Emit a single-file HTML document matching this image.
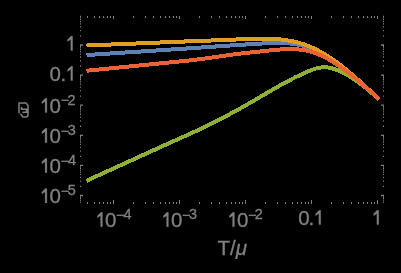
<!DOCTYPE html>
<html><head><meta charset="utf-8"><style>
html,body{margin:0;padding:0;background:#000;width:401px;height:273px;overflow:hidden}
svg{display:block}
text{font-family:"Liberation Sans",sans-serif;fill:#808080}
</style></head><body>
<svg width="401" height="273" viewBox="0 0 401 273">
<rect width="401" height="273" fill="#000"/>
<path d="M87.50 204.00L87.50 202.00 M87.50 16.00L87.50 18.00 M94.50 204.00L94.50 202.00 M94.50 16.00L94.50 18.00 M99.50 204.00L99.50 202.00 M99.50 16.00L99.50 18.00 M103.50 204.00L103.50 202.00 M103.50 16.00L103.50 18.00 M107.50 204.00L107.50 202.00 M107.50 16.00L107.50 18.00 M110.50 204.00L110.50 202.00 M110.50 16.00L110.50 18.00 M113.50 204.00L113.50 200.00 M113.50 16.00L113.50 19.00 M133.50 204.00L133.50 202.00 M133.50 16.00L133.50 18.00 M145.50 204.00L145.50 202.00 M145.50 16.00L145.50 18.00 M153.50 204.00L153.50 202.00 M153.50 16.00L153.50 18.00 M160.50 204.00L160.50 202.00 M160.50 16.00L160.50 18.00 M165.50 204.00L165.50 202.00 M165.50 16.00L165.50 18.00 M169.50 204.00L169.50 202.00 M169.50 16.00L169.50 18.00 M173.50 204.00L173.50 202.00 M173.50 16.00L173.50 18.00 M176.50 204.00L176.50 202.00 M176.50 16.00L176.50 18.00 M179.50 204.00L179.50 200.00 M179.50 16.00L179.50 19.00 M199.50 204.00L199.50 202.00 M199.50 16.00L199.50 18.00 M211.50 204.00L211.50 202.00 M211.50 16.00L211.50 18.00 M219.50 204.00L219.50 202.00 M219.50 16.00L219.50 18.00 M226.50 204.00L226.50 202.00 M226.50 16.00L226.50 18.00 M231.50 204.00L231.50 202.00 M231.50 16.00L231.50 18.00 M235.50 204.00L235.50 202.00 M235.50 16.00L235.50 18.00 M239.50 204.00L239.50 202.00 M239.50 16.00L239.50 18.00 M242.50 204.00L242.50 202.00 M242.50 16.00L242.50 18.00 M245.50 204.00L245.50 200.00 M245.50 16.00L245.50 19.00 M265.50 204.00L265.50 202.00 M265.50 16.00L265.50 18.00 M277.50 204.00L277.50 202.00 M277.50 16.00L277.50 18.00 M285.50 204.00L285.50 202.00 M285.50 16.00L285.50 18.00 M292.50 204.00L292.50 202.00 M292.50 16.00L292.50 18.00 M297.50 204.00L297.50 202.00 M297.50 16.00L297.50 18.00 M301.50 204.00L301.50 202.00 M301.50 16.00L301.50 18.00 M305.50 204.00L305.50 202.00 M305.50 16.00L305.50 18.00 M308.50 204.00L308.50 202.00 M308.50 16.00L308.50 18.00 M311.50 204.00L311.50 200.00 M311.50 16.00L311.50 19.00 M331.50 204.00L331.50 202.00 M331.50 16.00L331.50 18.00 M343.50 204.00L343.50 202.00 M343.50 16.00L343.50 18.00 M351.50 204.00L351.50 202.00 M351.50 16.00L351.50 18.00 M358.50 204.00L358.50 202.00 M358.50 16.00L358.50 18.00 M363.50 204.00L363.50 202.00 M363.50 16.00L363.50 18.00 M367.50 204.00L367.50 202.00 M367.50 16.00L367.50 18.00 M371.50 204.00L371.50 202.00 M371.50 16.00L371.50 18.00 M374.50 204.00L374.50 202.00 M374.50 16.00L374.50 18.00 M377.50 204.00L377.50 200.00 M377.50 16.00L377.50 19.00" stroke="#808080" stroke-width="1" fill="none" shape-rendering="crispEdges"/>
<path d="M80.00 202.18L81.00 202.18 M384.00 202.18L383.00 202.18 M80.00 200.16L81.00 200.16 M384.00 200.16L383.00 200.16 M80.00 198.42L81.00 198.42 M384.00 198.42L383.00 198.42 M80.00 196.88L81.00 196.88 M384.00 196.88L383.00 196.88 M80.00 195.50L83.00 195.50 M384.00 195.50L381.00 195.50 M80.00 186.44L81.00 186.44 M384.00 186.44L383.00 186.44 M80.00 181.14L81.00 181.14 M384.00 181.14L383.00 181.14 M80.00 177.38L81.00 177.38 M384.00 177.38L383.00 177.38 M80.00 174.46L81.00 174.46 M384.00 174.46L383.00 174.46 M80.00 172.08L81.00 172.08 M384.00 172.08L383.00 172.08 M80.00 170.06L81.00 170.06 M384.00 170.06L383.00 170.06 M80.00 168.32L81.00 168.32 M384.00 168.32L383.00 168.32 M80.00 166.78L81.00 166.78 M384.00 166.78L383.00 166.78 M80.00 165.40L83.00 165.40 M384.00 165.40L381.00 165.40 M80.00 156.34L81.00 156.34 M384.00 156.34L383.00 156.34 M80.00 151.04L81.00 151.04 M384.00 151.04L383.00 151.04 M80.00 147.28L81.00 147.28 M384.00 147.28L383.00 147.28 M80.00 144.36L81.00 144.36 M384.00 144.36L383.00 144.36 M80.00 141.98L81.00 141.98 M384.00 141.98L383.00 141.98 M80.00 139.96L81.00 139.96 M384.00 139.96L383.00 139.96 M80.00 138.22L81.00 138.22 M384.00 138.22L383.00 138.22 M80.00 136.68L81.00 136.68 M384.00 136.68L383.00 136.68 M80.00 135.30L83.00 135.30 M384.00 135.30L381.00 135.30 M80.00 126.24L81.00 126.24 M384.00 126.24L383.00 126.24 M80.00 120.94L81.00 120.94 M384.00 120.94L383.00 120.94 M80.00 117.18L81.00 117.18 M384.00 117.18L383.00 117.18 M80.00 114.26L81.00 114.26 M384.00 114.26L383.00 114.26 M80.00 111.88L81.00 111.88 M384.00 111.88L383.00 111.88 M80.00 109.86L81.00 109.86 M384.00 109.86L383.00 109.86 M80.00 108.12L81.00 108.12 M384.00 108.12L383.00 108.12 M80.00 106.58L81.00 106.58 M384.00 106.58L383.00 106.58 M80.00 105.20L83.00 105.20 M384.00 105.20L381.00 105.20 M80.00 96.14L81.00 96.14 M384.00 96.14L383.00 96.14 M80.00 90.84L81.00 90.84 M384.00 90.84L383.00 90.84 M80.00 87.08L81.00 87.08 M384.00 87.08L383.00 87.08 M80.00 84.16L81.00 84.16 M384.00 84.16L383.00 84.16 M80.00 81.78L81.00 81.78 M384.00 81.78L383.00 81.78 M80.00 79.76L81.00 79.76 M384.00 79.76L383.00 79.76 M80.00 78.02L81.00 78.02 M384.00 78.02L383.00 78.02 M80.00 76.48L81.00 76.48 M384.00 76.48L383.00 76.48 M80.00 75.10L83.00 75.10 M384.00 75.10L381.00 75.10 M80.00 66.04L81.00 66.04 M384.00 66.04L383.00 66.04 M80.00 60.74L81.00 60.74 M384.00 60.74L383.00 60.74 M80.00 56.98L81.00 56.98 M384.00 56.98L383.00 56.98 M80.00 54.06L81.00 54.06 M384.00 54.06L383.00 54.06 M80.00 51.68L81.00 51.68 M384.00 51.68L383.00 51.68 M80.00 49.66L81.00 49.66 M384.00 49.66L383.00 49.66 M80.00 47.92L81.00 47.92 M384.00 47.92L383.00 47.92 M80.00 46.38L81.00 46.38 M384.00 46.38L383.00 46.38 M80.00 45.00L83.00 45.00 M384.00 45.00L381.00 45.00 M80.00 35.94L81.00 35.94 M384.00 35.94L383.00 35.94 M80.00 30.64L81.00 30.64 M384.00 30.64L383.00 30.64 M80.00 26.88L81.00 26.88 M384.00 26.88L383.00 26.88 M80.00 23.96L81.00 23.96 M384.00 23.96L383.00 23.96 M80.00 21.58L81.00 21.58 M384.00 21.58L383.00 21.58 M80.00 19.56L81.00 19.56 M384.00 19.56L383.00 19.56 M80.00 17.82L81.00 17.82 M384.00 17.82L383.00 17.82 M80.00 16.28L81.00 16.28 M384.00 16.28L383.00 16.28" stroke="#808080" stroke-width="1.3" fill="none"/>
<path d="M86.50 55.05 L87.50 54.98 L88.50 54.92 L89.50 54.85 L90.50 54.79 L91.50 54.72 L92.50 54.65 L93.50 54.59 L94.50 54.52 L95.50 54.46 L96.50 54.39 L97.50 54.33 L98.50 54.26 L99.50 54.20 L100.50 54.13 L101.50 54.07 L102.50 54.00 L103.50 53.94 L104.50 53.87 L105.50 53.81 L106.50 53.74 L107.50 53.67 L108.50 53.61 L109.50 53.54 L110.50 53.48 L111.50 53.41 L112.50 53.35 L113.50 53.28 L114.50 53.22 L115.50 53.15 L116.50 53.09 L117.50 53.02 L118.50 52.96 L119.50 52.89 L120.50 52.83 L121.50 52.76 L122.50 52.70 L123.50 52.63 L124.50 52.56 L125.50 52.50 L126.50 52.43 L127.50 52.37 L128.50 52.30 L129.50 52.24 L130.50 52.17 L131.50 52.11 L132.50 52.04 L133.50 51.98 L134.50 51.91 L135.50 51.85 L136.50 51.78 L137.50 51.72 L138.50 51.65 L139.50 51.58 L140.50 51.52 L141.50 51.45 L142.50 51.39 L143.50 51.32 L144.50 51.26 L145.50 51.19 L146.50 51.13 L147.50 51.06 L148.50 51.00 L149.50 50.93 L150.50 50.87 L151.50 50.80 L152.50 50.74 L153.50 50.67 L154.50 50.61 L155.50 50.54 L156.50 50.47 L157.50 50.41 L158.50 50.34 L159.50 50.28 L160.50 50.21 L161.50 50.15 L162.50 50.08 L163.50 50.02 L164.50 49.95 L165.50 49.89 L166.50 49.82 L167.50 49.76 L168.50 49.69 L169.50 49.63 L170.50 49.56 L171.50 49.50 L172.50 49.43 L173.50 49.36 L174.50 49.30 L175.50 49.23 L176.50 49.17 L177.50 49.10 L178.50 49.04 L179.50 48.97 L180.50 48.91 L181.50 48.84 L182.50 48.78 L183.50 48.71 L184.50 48.64 L185.50 48.58 L186.50 48.51 L187.50 48.44 L188.50 48.38 L189.50 48.31 L190.50 48.24 L191.50 48.18 L192.50 48.11 L193.50 48.04 L194.50 47.97 L195.50 47.90 L196.50 47.84 L197.50 47.77 L198.50 47.70 L199.50 47.63 L200.50 47.56 L201.50 47.49 L202.50 47.42 L203.50 47.35 L204.50 47.28 L205.50 47.21 L206.50 47.14 L207.50 47.08 L208.50 47.00 L209.50 46.93 L210.50 46.86 L211.50 46.79 L212.50 46.72 L213.50 46.65 L214.50 46.58 L215.50 46.51 L216.50 46.44 L217.50 46.37 L218.50 46.30 L219.50 46.23 L220.50 46.16 L221.50 46.09 L222.50 46.02 L223.50 45.95 L224.50 45.88 L225.50 45.81 L226.50 45.75 L227.50 45.67 L228.50 45.60 L229.50 45.54 L230.50 45.47 L231.50 45.41 L232.50 45.34 L233.50 45.27 L234.50 45.20 L235.50 45.14 L236.50 45.07 L237.50 45.01 L238.50 44.95 L239.50 44.88 L240.50 44.82 L241.50 44.76 L242.50 44.69 L243.50 44.63 L244.50 44.57 L245.50 44.51 L246.50 44.44 L247.50 44.38 L248.50 44.32 L249.50 44.26 L250.50 44.20 L251.50 44.14 L252.50 44.08 L253.50 44.02 L254.50 43.96 L255.50 43.90 L256.50 43.84 L257.50 43.79 L258.50 43.73 L259.50 43.67 L260.50 43.61 L261.50 43.56 L262.50 43.50 L263.50 43.45 L264.50 43.39 L265.50 43.34 L266.50 43.29 L267.50 43.25 L268.50 43.20 L269.50 43.16 L270.50 43.12 L271.50 43.09 L272.50 43.06 L273.50 43.03 L274.50 43.01 L275.50 43.00 L276.50 42.99 L277.50 42.98 L278.50 42.99 L279.50 42.99 L280.50 43.01 L281.50 43.03 L282.50 43.06 L283.50 43.10 L284.50 43.14 L285.50 43.19 L286.50 43.25 L287.50 43.32 L288.50 43.40 L289.50 43.49 L290.50 43.59 L291.50 43.70 L292.50 43.82 L293.50 43.95 L294.50 44.09 L295.50 44.25 L296.50 44.41 L297.50 44.59 L298.50 44.78 L299.50 44.98 L300.50 45.20 L301.50 45.43 L302.50 45.67 L303.50 45.93 L304.50 46.20 L305.50 46.49 L306.50 46.79 L307.50 47.11 L308.50 47.44 L309.50 47.79 L310.50 48.16 L311.50 48.54 L312.50 48.94 L313.50 49.35 L314.50 49.79 L315.50 50.24 L316.50 50.70 L317.50 51.18 L318.50 51.68 L319.50 52.19 L320.50 52.72 L321.50 53.26 L322.50 53.82 L323.50 54.39 L324.50 54.97 L325.50 55.57 L326.50 56.18 L327.50 56.80 L328.50 57.43 L329.50 58.08 L330.50 58.74 L331.50 59.41 L332.50 60.09 L333.50 60.78 L334.50 61.48 L335.50 62.19 L336.50 62.92 L337.50 63.65 L338.50 64.39 L339.50 65.14 L340.50 65.90 L341.50 66.66 L342.50 67.44 L343.50 68.22 L344.50 69.01 L345.50 69.81 L346.50 70.61 L347.50 71.42 L348.50 72.24 L349.50 73.06 L350.50 73.89 L351.50 74.72 L352.50 75.56 L353.50 76.40 L354.50 77.25 L355.50 78.10 L356.50 78.96 L357.50 79.82 L358.50 80.68 L359.50 81.55 L360.50 82.42 L361.50 83.30 L362.50 84.18 L363.50 85.06 L364.50 85.94 L365.50 86.83 L366.50 87.72 L367.50 88.61 L368.50 89.51 L369.50 90.41 L370.50 91.31 L371.50 92.21 L372.50 93.11 L373.50 94.01 L374.50 94.92 L375.50 95.83 L376.50 96.73 L377.50 97.64 L378.80 98.82" fill="none" stroke="#5E81B5" stroke-width="4.0" stroke-linejoin="round" shape-rendering="crispEdges"/>
<path d="M86.50 45.52 L87.50 45.48 L88.50 45.44 L89.50 45.40 L90.50 45.35 L91.50 45.31 L92.50 45.27 L93.50 45.23 L94.50 45.19 L95.50 45.15 L96.50 45.11 L97.50 45.07 L98.50 45.03 L99.50 44.99 L100.50 44.95 L101.50 44.91 L102.50 44.86 L103.50 44.82 L104.50 44.78 L105.50 44.74 L106.50 44.70 L107.50 44.66 L108.50 44.62 L109.50 44.58 L110.50 44.54 L111.50 44.50 L112.50 44.46 L113.50 44.41 L114.50 44.37 L115.50 44.33 L116.50 44.29 L117.50 44.25 L118.50 44.21 L119.50 44.17 L120.50 44.13 L121.50 44.09 L122.50 44.05 L123.50 44.01 L124.50 43.97 L125.50 43.92 L126.50 43.88 L127.50 43.84 L128.50 43.80 L129.50 43.76 L130.50 43.72 L131.50 43.68 L132.50 43.64 L133.50 43.60 L134.50 43.56 L135.50 43.52 L136.50 43.47 L137.50 43.43 L138.50 43.39 L139.50 43.35 L140.50 43.31 L141.50 43.27 L142.50 43.23 L143.50 43.19 L144.50 43.15 L145.50 43.11 L146.50 43.07 L147.50 43.03 L148.50 42.98 L149.50 42.94 L150.50 42.90 L151.50 42.86 L152.50 42.82 L153.50 42.78 L154.50 42.74 L155.50 42.70 L156.50 42.66 L157.50 42.62 L158.50 42.58 L159.50 42.53 L160.50 42.49 L161.50 42.45 L162.50 42.41 L163.50 42.37 L164.50 42.33 L165.50 42.29 L166.50 42.25 L167.50 42.21 L168.50 42.17 L169.50 42.13 L170.50 42.09 L171.50 42.04 L172.50 42.00 L173.50 41.96 L174.50 41.92 L175.50 41.88 L176.50 41.84 L177.50 41.80 L178.50 41.76 L179.50 41.72 L180.50 41.67 L181.50 41.63 L182.50 41.59 L183.50 41.55 L184.50 41.51 L185.50 41.47 L186.50 41.43 L187.50 41.39 L188.50 41.35 L189.50 41.31 L190.50 41.27 L191.50 41.23 L192.50 41.19 L193.50 41.15 L194.50 41.11 L195.50 41.07 L196.50 41.04 L197.50 41.00 L198.50 40.96 L199.50 40.93 L200.50 40.89 L201.50 40.85 L202.50 40.81 L203.50 40.78 L204.50 40.74 L205.50 40.71 L206.50 40.68 L207.50 40.64 L208.50 40.61 L209.50 40.57 L210.50 40.53 L211.50 40.50 L212.50 40.46 L213.50 40.43 L214.50 40.39 L215.50 40.36 L216.50 40.32 L217.50 40.28 L218.50 40.25 L219.50 40.22 L220.50 40.18 L221.50 40.14 L222.50 40.10 L223.50 40.06 L224.50 40.02 L225.50 39.98 L226.50 39.94 L227.50 39.90 L228.50 39.86 L229.50 39.81 L230.50 39.77 L231.50 39.72 L232.50 39.68 L233.50 39.63 L234.50 39.58 L235.50 39.54 L236.50 39.49 L237.50 39.44 L238.50 39.39 L239.50 39.34 L240.50 39.29 L241.50 39.25 L242.50 39.20 L243.50 39.16 L244.50 39.11 L245.50 39.07 L246.50 39.03 L247.50 38.99 L248.50 38.95 L249.50 38.91 L250.50 38.88 L251.50 38.84 L252.50 38.81 L253.50 38.78 L254.50 38.76 L255.50 38.73 L256.50 38.71 L257.50 38.69 L258.50 38.68 L259.50 38.67 L260.50 38.66 L261.50 38.65 L262.50 38.65 L263.50 38.65 L264.50 38.66 L265.50 38.67 L266.50 38.68 L267.50 38.70 L268.50 38.73 L269.50 38.75 L270.50 38.79 L271.50 38.83 L272.50 38.87 L273.50 38.93 L274.50 38.98 L275.50 39.05 L276.50 39.12 L277.50 39.20 L278.50 39.28 L279.50 39.37 L280.50 39.47 L281.50 39.58 L282.50 39.69 L283.50 39.81 L284.50 39.94 L285.50 40.08 L286.50 40.23 L287.50 40.38 L288.50 40.55 L289.50 40.72 L290.50 40.91 L291.50 41.10 L292.50 41.30 L293.50 41.52 L294.50 41.74 L295.50 41.97 L296.50 42.22 L297.50 42.47 L298.50 42.74 L299.50 43.02 L300.50 43.31 L301.50 43.61 L302.50 43.92 L303.50 44.25 L304.50 44.59 L305.50 44.94 L306.50 45.30 L307.50 45.68 L308.50 46.07 L309.50 46.47 L310.50 46.89 L311.50 47.32 L312.50 47.76 L313.50 48.22 L314.50 48.69 L315.50 49.18 L316.50 49.68 L317.50 50.19 L318.50 50.72 L319.50 51.26 L320.50 51.81 L321.50 52.37 L322.50 52.95 L323.50 53.54 L324.50 54.14 L325.50 54.75 L326.50 55.37 L327.50 56.01 L328.50 56.65 L329.50 57.31 L330.50 57.98 L331.50 58.66 L332.50 59.35 L333.50 60.04 L334.50 60.75 L335.50 61.47 L336.50 62.20 L337.50 62.94 L338.50 63.68 L339.50 64.44 L340.50 65.20 L341.50 65.97 L342.50 66.75 L343.50 67.54 L344.50 68.34 L345.50 69.15 L346.50 69.96 L347.50 70.78 L348.50 71.61 L349.50 72.44 L350.50 73.28 L351.50 74.13 L352.50 74.98 L353.50 75.84 L354.50 76.71 L355.50 77.58 L356.50 78.46 L357.50 79.34 L358.50 80.23 L359.50 81.12 L360.50 82.02 L361.50 82.93 L362.50 83.83 L363.50 84.74 L364.50 85.66 L365.50 86.58 L366.50 87.50 L367.50 88.43 L368.50 89.36 L369.50 90.29 L370.50 91.23 L371.50 92.17 L372.50 93.11 L373.50 94.05 L374.50 95.00 L375.50 95.95 L376.50 96.90 L377.50 97.85 L378.80 99.08" fill="none" stroke="#E19C24" stroke-width="4.0" stroke-linejoin="round" shape-rendering="crispEdges"/>
<path d="M86.50 180.77 L87.50 180.31 L88.50 179.86 L89.50 179.40 L90.50 178.95 L91.50 178.49 L92.50 178.04 L93.50 177.58 L94.50 177.12 L95.50 176.67 L96.50 176.21 L97.50 175.76 L98.50 175.30 L99.50 174.85 L100.50 174.39 L101.50 173.93 L102.50 173.48 L103.50 173.02 L104.50 172.57 L105.50 172.11 L106.50 171.66 L107.50 171.20 L108.50 170.74 L109.50 170.29 L110.50 169.83 L111.50 169.38 L112.50 168.92 L113.50 168.47 L114.50 168.01 L115.50 167.55 L116.50 167.10 L117.50 166.64 L118.50 166.19 L119.50 165.73 L120.50 165.28 L121.50 164.82 L122.50 164.37 L123.50 163.91 L124.50 163.45 L125.50 163.00 L126.50 162.54 L127.50 162.09 L128.50 161.63 L129.50 161.18 L130.50 160.72 L131.50 160.26 L132.50 159.81 L133.50 159.35 L134.50 158.90 L135.50 158.44 L136.50 157.99 L137.50 157.53 L138.50 157.07 L139.50 156.62 L140.50 156.16 L141.50 155.71 L142.50 155.25 L143.50 154.80 L144.50 154.34 L145.50 153.88 L146.50 153.43 L147.50 152.97 L148.50 152.52 L149.50 152.06 L150.50 151.61 L151.50 151.15 L152.50 150.69 L153.50 150.24 L154.50 149.78 L155.50 149.33 L156.50 148.87 L157.50 148.42 L158.50 147.97 L159.50 147.51 L160.50 147.06 L161.50 146.61 L162.50 146.16 L163.50 145.70 L164.50 145.25 L165.50 144.80 L166.50 144.35 L167.50 143.90 L168.50 143.45 L169.50 143.00 L170.50 142.56 L171.50 142.11 L172.50 141.66 L173.50 141.21 L174.50 140.76 L175.50 140.31 L176.50 139.87 L177.50 139.42 L178.50 138.97 L179.50 138.52 L180.50 138.08 L181.50 137.63 L182.50 137.18 L183.50 136.73 L184.50 136.28 L185.50 135.83 L186.50 135.38 L187.50 134.93 L188.50 134.47 L189.50 134.02 L190.50 133.56 L191.50 133.11 L192.50 132.65 L193.50 132.19 L194.50 131.73 L195.50 131.27 L196.50 130.80 L197.50 130.34 L198.50 129.87 L199.50 129.41 L200.50 128.93 L201.50 128.46 L202.50 127.99 L203.50 127.50 L204.50 127.03 L205.50 126.54 L206.50 126.05 L207.50 125.57 L208.50 125.08 L209.50 124.59 L210.50 124.10 L211.50 123.60 L212.50 123.10 L213.50 122.60 L214.50 122.10 L215.50 121.58 L216.50 121.08 L217.50 120.57 L218.50 120.06 L219.50 119.55 L220.50 119.04 L221.50 118.52 L222.50 118.00 L223.50 117.48 L224.50 116.96 L225.50 116.44 L226.50 115.91 L227.50 115.38 L228.50 114.85 L229.50 114.32 L230.50 113.78 L231.50 113.24 L232.50 112.70 L233.50 112.16 L234.50 111.62 L235.50 111.07 L236.50 110.52 L237.50 109.97 L238.50 109.41 L239.50 108.85 L240.50 108.29 L241.50 107.73 L242.50 107.17 L243.50 106.60 L244.50 106.03 L245.50 105.46 L246.50 104.89 L247.50 104.31 L248.50 103.73 L249.50 103.16 L250.50 102.58 L251.50 102.00 L252.50 101.41 L253.50 100.83 L254.50 100.25 L255.50 99.66 L256.50 99.08 L257.50 98.49 L258.50 97.91 L259.50 97.32 L260.50 96.74 L261.50 96.15 L262.50 95.57 L263.50 94.98 L264.50 94.40 L265.50 93.81 L266.50 93.23 L267.50 92.65 L268.50 92.07 L269.50 91.49 L270.50 90.91 L271.50 90.33 L272.50 89.76 L273.50 89.18 L274.50 88.61 L275.50 88.04 L276.50 87.47 L277.50 86.91 L278.50 86.34 L279.50 85.78 L280.50 85.22 L281.50 84.67 L282.50 84.12 L283.50 83.57 L284.50 83.02 L285.50 82.48 L286.50 81.94 L287.50 81.40 L288.50 80.87 L289.50 80.34 L290.50 79.81 L291.50 79.29 L292.50 78.77 L293.50 78.26 L294.50 77.75 L295.50 77.25 L296.50 76.75 L297.50 76.26 L298.50 75.77 L299.50 75.28 L300.50 74.80 L301.50 74.33 L302.50 73.86 L303.50 73.40 L304.50 72.94 L305.50 72.49 L306.50 72.05 L307.50 71.61 L308.50 71.19 L309.50 70.78 L310.50 70.38 L311.50 69.99 L312.50 69.63 L313.50 69.28 L314.50 68.95 L315.50 68.65 L316.50 68.37 L317.50 68.12 L318.50 67.89 L319.50 67.69 L320.50 67.53 L321.50 67.39 L322.50 67.30 L323.50 67.23 L324.50 67.21 L325.50 67.23 L326.50 67.28 L327.50 67.39 L328.50 67.53 L329.50 67.71 L330.50 67.93 L331.50 68.18 L332.50 68.47 L333.50 68.78 L334.50 69.11 L335.50 69.46 L336.50 69.84 L337.50 70.23 L338.50 70.64 L339.50 71.07 L340.50 71.52 L341.50 71.99 L342.50 72.47 L343.50 72.97 L344.50 73.48 L345.50 74.02 L346.50 74.57 L347.50 75.13 L348.50 75.71 L349.50 76.31 L350.50 76.92 L351.50 77.54 L352.50 78.18 L353.50 78.83 L354.50 79.50 L355.50 80.18 L356.50 80.87 L357.50 81.58 L358.50 82.30 L359.50 83.03 L360.50 83.77 L361.50 84.52 L362.50 85.29 L363.50 86.06 L364.50 86.85 L365.50 87.65 L366.50 88.46 L367.50 89.28 L368.50 90.11 L369.50 90.96 L370.50 91.82 L371.50 92.71 L372.50 93.61 L373.50 94.53 L374.50 95.48 L375.50 96.44 L376.50 97.44 L377.50 98.45 L378.80 99.76" fill="none" stroke="#8FB032" stroke-width="4.0" stroke-linejoin="round" shape-rendering="crispEdges"/>
<path d="M86.50 70.78 L87.50 70.68 L88.50 70.58 L89.50 70.48 L90.50 70.38 L91.50 70.28 L92.50 70.18 L93.50 70.08 L94.50 69.98 L95.50 69.88 L96.50 69.78 L97.50 69.68 L98.50 69.58 L99.50 69.48 L100.50 69.38 L101.50 69.28 L102.50 69.17 L103.50 69.07 L104.50 68.97 L105.50 68.87 L106.50 68.77 L107.50 68.67 L108.50 68.57 L109.50 68.47 L110.50 68.37 L111.50 68.27 L112.50 68.17 L113.50 68.07 L114.50 67.97 L115.50 67.87 L116.50 67.77 L117.50 67.67 L118.50 67.57 L119.50 67.47 L120.50 67.37 L121.50 67.27 L122.50 67.17 L123.50 67.07 L124.50 66.97 L125.50 66.87 L126.50 66.77 L127.50 66.67 L128.50 66.56 L129.50 66.46 L130.50 66.36 L131.50 66.26 L132.50 66.16 L133.50 66.06 L134.50 65.96 L135.50 65.86 L136.50 65.76 L137.50 65.66 L138.50 65.56 L139.50 65.46 L140.50 65.36 L141.50 65.26 L142.50 65.16 L143.50 65.06 L144.50 64.96 L145.50 64.86 L146.50 64.76 L147.50 64.66 L148.50 64.56 L149.50 64.46 L150.50 64.36 L151.50 64.26 L152.50 64.16 L153.50 64.06 L154.50 63.96 L155.50 63.85 L156.50 63.75 L157.50 63.65 L158.50 63.55 L159.50 63.45 L160.50 63.35 L161.50 63.25 L162.50 63.15 L163.50 63.05 L164.50 62.95 L165.50 62.85 L166.50 62.75 L167.50 62.65 L168.50 62.55 L169.50 62.45 L170.50 62.35 L171.50 62.25 L172.50 62.15 L173.50 62.05 L174.50 61.95 L175.50 61.85 L176.50 61.75 L177.50 61.66 L178.50 61.56 L179.50 61.46 L180.50 61.36 L181.50 61.26 L182.50 61.16 L183.50 61.05 L184.50 60.95 L185.50 60.85 L186.50 60.74 L187.50 60.64 L188.50 60.53 L189.50 60.42 L190.50 60.31 L191.50 60.20 L192.50 60.08 L193.50 59.97 L194.50 59.85 L195.50 59.73 L196.50 59.61 L197.50 59.49 L198.50 59.36 L199.50 59.24 L200.50 59.10 L201.50 58.97 L202.50 58.84 L203.50 58.71 L204.50 58.58 L205.50 58.44 L206.50 58.30 L207.50 58.16 L208.50 58.03 L209.50 57.88 L210.50 57.74 L211.50 57.59 L212.50 57.45 L213.50 57.30 L214.50 57.16 L215.50 57.01 L216.50 56.87 L217.50 56.71 L218.50 56.57 L219.50 56.42 L220.50 56.27 L221.50 56.12 L222.50 55.97 L223.50 55.83 L224.50 55.68 L225.50 55.53 L226.50 55.39 L227.50 55.25 L228.50 55.10 L229.50 54.96 L230.50 54.82 L231.50 54.69 L232.50 54.55 L233.50 54.41 L234.50 54.28 L235.50 54.15 L236.50 54.02 L237.50 53.90 L238.50 53.78 L239.50 53.66 L240.50 53.55 L241.50 53.43 L242.50 53.32 L243.50 53.20 L244.50 53.09 L245.50 52.98 L246.50 52.87 L247.50 52.77 L248.50 52.66 L249.50 52.55 L250.50 52.45 L251.50 52.34 L252.50 52.24 L253.50 52.14 L254.50 52.04 L255.50 51.93 L256.50 51.83 L257.50 51.73 L258.50 51.63 L259.50 51.52 L260.50 51.42 L261.50 51.31 L262.50 51.20 L263.50 51.09 L264.50 50.98 L265.50 50.87 L266.50 50.77 L267.50 50.66 L268.50 50.55 L269.50 50.44 L270.50 50.34 L271.50 50.24 L272.50 50.14 L273.50 50.04 L274.50 49.94 L275.50 49.85 L276.50 49.76 L277.50 49.68 L278.50 49.60 L279.50 49.52 L280.50 49.45 L281.50 49.38 L282.50 49.32 L283.50 49.27 L284.50 49.22 L285.50 49.17 L286.50 49.14 L287.50 49.11 L288.50 49.09 L289.50 49.08 L290.50 49.08 L291.50 49.08 L292.50 49.10 L293.50 49.13 L294.50 49.17 L295.50 49.22 L296.50 49.28 L297.50 49.35 L298.50 49.43 L299.50 49.53 L300.50 49.64 L301.50 49.76 L302.50 49.90 L303.50 50.05 L304.50 50.22 L305.50 50.41 L306.50 50.60 L307.50 50.82 L308.50 51.05 L309.50 51.30 L310.50 51.57 L311.50 51.85 L312.50 52.15 L313.50 52.48 L314.50 52.82 L315.50 53.17 L316.50 53.55 L317.50 53.94 L318.50 54.35 L319.50 54.78 L320.50 55.22 L321.50 55.68 L322.50 56.16 L323.50 56.65 L324.50 57.16 L325.50 57.68 L326.50 58.21 L327.50 58.76 L328.50 59.33 L329.50 59.90 L330.50 60.49 L331.50 61.09 L332.50 61.70 L333.50 62.33 L334.50 62.96 L335.50 63.61 L336.50 64.26 L337.50 64.93 L338.50 65.61 L339.50 66.29 L340.50 66.99 L341.50 67.69 L342.50 68.40 L343.50 69.12 L344.50 69.85 L345.50 70.59 L346.50 71.34 L347.50 72.09 L348.50 72.85 L349.50 73.61 L350.50 74.39 L351.50 75.17 L352.50 75.96 L353.50 76.75 L354.50 77.55 L355.50 78.36 L356.50 79.17 L357.50 80.00 L358.50 80.82 L359.50 81.66 L360.50 82.50 L361.50 83.35 L362.50 84.21 L363.50 85.07 L364.50 85.94 L365.50 86.82 L366.50 87.71 L367.50 88.60 L368.50 89.50 L369.50 90.41 L370.50 91.32 L371.50 92.24 L372.50 93.17 L373.50 94.10 L374.50 95.05 L375.50 96.00 L376.50 96.95 L377.50 97.92 L378.80 99.17" fill="none" stroke="#EB6235" stroke-width="4.0" stroke-linejoin="round" shape-rendering="crispEdges"/>
<defs><filter id="f" x="0" y="0" width="401" height="273" filterUnits="userSpaceOnUse"><feOffset dx="0" dy="0"/></filter></defs>
<g filter="url(#f)" stroke="#808080" stroke-width="0.3">
<path d="M72.60 50.45L72.60 36.10L71.10 36.10L67.60 39.50L67.60 41.50L70.80 39.40L70.80 50.45Z" fill="#808080"/>
<text x="49.55" y="80.55" font-size="20.5">0</text>
<text x="60.61" y="80.55" font-size="20.5">.</text>
<path d="M72.60 80.55L72.60 66.20L71.10 66.20L67.60 69.60L67.60 71.60L70.80 69.50L70.80 80.55Z" fill="#808080"/>
<path d="M46.90 112.60L46.90 98.25L45.40 98.25L41.90 101.65L41.90 103.65L45.10 101.55L45.10 112.60Z" fill="#808080"/>
<text x="49.55" y="112.60" font-size="20.5">0</text>
<text x="60.65" y="105.40" font-size="14.5">−</text>
<text x="67.50" y="104.90" font-size="14.5">2</text>
<path d="M46.90 142.70L46.90 128.35L45.40 128.35L41.90 131.75L41.90 133.75L45.10 131.65L45.10 142.70Z" fill="#808080"/>
<text x="49.55" y="142.70" font-size="20.5">0</text>
<text x="60.65" y="135.50" font-size="14.5">−</text>
<text x="67.68" y="135.00" font-size="14.5">3</text>
<path d="M46.90 172.80L46.90 158.45L45.40 158.45L41.90 161.85L41.90 163.85L45.10 161.75L45.10 172.80Z" fill="#808080"/>
<text x="49.55" y="172.80" font-size="20.5">0</text>
<text x="60.65" y="165.60" font-size="14.5">−</text>
<text x="68.08" y="165.10" font-size="14.5">4</text>
<path d="M46.90 202.90L46.90 188.55L45.40 188.55L41.90 191.95L41.90 193.95L45.10 191.85L45.10 202.90Z" fill="#808080"/>
<text x="49.55" y="202.90" font-size="20.5">0</text>
<text x="60.65" y="195.70" font-size="14.5">−</text>
<text x="67.64" y="195.20" font-size="14.5">5</text>
<path d="M102.40 226.70L102.40 212.35L100.90 212.35L97.40 215.75L97.40 217.75L100.60 215.65L100.60 226.70Z" fill="#808080"/>
<text x="104.95" y="226.70" font-size="20.5">0</text>
<text x="116.05" y="219.50" font-size="14.5">−</text>
<text x="123.38" y="219.00" font-size="14.5">4</text>
<path d="M168.40 226.70L168.40 212.35L166.90 212.35L163.40 215.75L163.40 217.75L166.60 215.65L166.60 226.70Z" fill="#808080"/>
<text x="170.95" y="226.70" font-size="20.5">0</text>
<text x="182.05" y="219.50" font-size="14.5">−</text>
<text x="188.98" y="219.00" font-size="14.5">3</text>
<path d="M234.40 226.70L234.40 212.35L232.90 212.35L229.40 215.75L229.40 217.75L232.60 215.65L232.60 226.70Z" fill="#808080"/>
<text x="236.95" y="226.70" font-size="20.5">0</text>
<text x="248.05" y="219.50" font-size="14.5">−</text>
<text x="254.80" y="219.00" font-size="14.5">2</text>
<text x="298.35" y="224.60" font-size="20.5">0</text>
<text x="308.50" y="224.60" font-size="20.5">.</text>
<path d="M320.70 224.60L320.70 210.25L319.20 210.25L315.70 213.65L315.70 215.65L318.90 213.55L318.90 224.60Z" fill="#808080"/>
<path d="M378.70 224.60L378.70 210.25L377.20 210.25L373.70 213.65L373.70 215.65L376.90 213.55L376.90 224.60Z" fill="#808080"/>
<text x="217.5" y="254.5" font-size="20.5">T/<tspan font-style="italic">μ</tspan></text>
<path d="M19 113.3 L19 103 L26 103 L28 105.5 L28 115.3 Q27.8 116.9 25.5 116.9 L23 116.9 L20.3 113.8 M21.6 107.1 L21.6 109.2 L26.5 109.2 L26.5 112.3 L22.3 112.3" fill="none" stroke="#808080" stroke-width="1.5"/>
</g>
</svg></body></html>
